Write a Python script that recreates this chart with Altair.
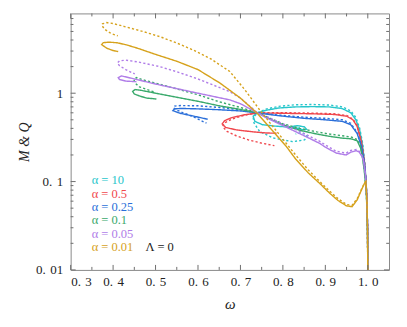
import altair as alt
import pandas as pd

ALPHAS = ["10", "0.5", "0.25", "0.1", "0.05", "0.01"]
COLORS = ["#27c6cb", "#f0474d", "#2b6fd9", "#39a96b", "#b07de8", "#d6a21c"]

# alpha = 10
CYAN_M_W = [1.0, 0.9995, 0.998, 0.996, 0.993, 0.988, 0.981, 0.972, 0.96, 0.94, 0.91, 0.87, 0.83, 0.79, 0.76, 0.74, 0.73, 0.734, 0.752, 0.78, 0.81, 0.835, 0.85, 0.856, 0.851, 0.835, 0.822, 0.83, 0.84]
CYAN_M_V = [0.01, 0.03, 0.06, 0.1, 0.15, 0.25, 0.38, 0.5, 0.6, 0.67, 0.70, 0.705, 0.70, 0.68, 0.64, 0.6, 0.55, 0.48, 0.44, 0.425, 0.415, 0.395, 0.385, 0.39, 0.415, 0.43, 0.42, 0.4, 0.405]
CYAN_Q_W = [1.0, 0.9995, 0.998, 0.996, 0.993, 0.988, 0.981, 0.972, 0.96, 0.94, 0.91, 0.87, 0.83, 0.79, 0.76, 0.74, 0.73, 0.732, 0.745, 0.776, 0.823, 0.851, 0.857, 0.853, 0.84, 0.83]
CYAN_Q_V = [0.01, 0.03, 0.06, 0.1, 0.16, 0.27, 0.4, 0.53, 0.63, 0.70, 0.735, 0.745, 0.74, 0.71, 0.66, 0.6, 0.53, 0.46, 0.37, 0.312, 0.283, 0.296, 0.322, 0.345, 0.355, 0.345]

# alpha = 0.5
RED_M_W = [1.0, 0.9995, 0.998, 0.996, 0.992, 0.985, 0.975, 0.965, 0.95, 0.92, 0.87, 0.82, 0.78, 0.74, 0.71, 0.68, 0.663, 0.657, 0.665, 0.69, 0.73, 0.76, 0.785]
RED_M_V = [0.01, 0.03, 0.06, 0.1, 0.17, 0.28, 0.42, 0.5, 0.55, 0.575, 0.585, 0.59, 0.595, 0.595, 0.57, 0.53, 0.49, 0.45, 0.41, 0.385, 0.365, 0.355, 0.352]
RED_Q_W = [1.0, 0.9995, 0.998, 0.996, 0.992, 0.985, 0.975, 0.965, 0.95, 0.92, 0.87, 0.82, 0.78, 0.74, 0.71, 0.68, 0.662, 0.658, 0.668, 0.69, 0.72, 0.75, 0.78]
RED_Q_V = [0.01, 0.03, 0.06, 0.1, 0.17, 0.29, 0.43, 0.51, 0.56, 0.585, 0.595, 0.6, 0.6, 0.6, 0.565, 0.51, 0.46, 0.42, 0.37, 0.33, 0.295, 0.272, 0.255]

# alpha = 0.25
BLUE_M_W = [1.0, 0.9995, 0.998, 0.996, 0.992, 0.985, 0.975, 0.96, 0.94, 0.9, 0.85, 0.8, 0.76, 0.74, 0.7, 0.65, 0.6, 0.56, 0.545, 0.541, 0.557, 0.59, 0.623]
BLUE_M_V = [0.01, 0.03, 0.06, 0.1, 0.16, 0.25, 0.35, 0.44, 0.48, 0.5, 0.52, 0.55, 0.58, 0.6, 0.63, 0.65, 0.665, 0.672, 0.665, 0.635, 0.594, 0.55, 0.507]
BLUE_Q_W = [1.0, 0.9995, 0.998, 0.996, 0.992, 0.985, 0.975, 0.96, 0.94, 0.9, 0.85, 0.8, 0.76, 0.74, 0.7, 0.65, 0.6, 0.56, 0.545, 0.542, 0.55, 0.565, 0.588, 0.62]
BLUE_Q_V = [0.01, 0.03, 0.06, 0.1, 0.165, 0.26, 0.36, 0.455, 0.5, 0.52, 0.535, 0.56, 0.585, 0.6, 0.65, 0.69, 0.72, 0.725, 0.715, 0.685, 0.645, 0.6, 0.544, 0.458]

# alpha = 0.1
GREEN_M_W = [1.0, 0.9995, 0.998, 0.996, 0.992, 0.988, 0.983, 0.975, 0.96, 0.94, 0.91, 0.88, 0.84, 0.8, 0.77, 0.74, 0.7, 0.65, 0.6, 0.55, 0.5, 0.465, 0.452, 0.446, 0.45, 0.465, 0.48, 0.502]
GREEN_M_V = [0.01, 0.025, 0.05, 0.08, 0.13, 0.18, 0.24, 0.29, 0.305, 0.31, 0.325, 0.345, 0.38, 0.44, 0.51, 0.6, 0.655, 0.72, 0.81, 0.9, 1.0, 1.08, 1.1, 1.05, 0.98, 0.92, 0.88, 0.86]
GREEN_Q_W = [1.0, 0.9995, 0.998, 0.996, 0.992, 0.988, 0.983, 0.975, 0.96, 0.94, 0.91, 0.88, 0.84, 0.8, 0.77, 0.74, 0.7, 0.65, 0.6, 0.55, 0.5, 0.47, 0.455, 0.449, 0.452, 0.462, 0.48, 0.5]
GREEN_Q_V = [0.01, 0.025, 0.05, 0.08, 0.135, 0.19, 0.25, 0.3, 0.32, 0.33, 0.345, 0.365, 0.4, 0.45, 0.52, 0.6, 0.69, 0.8, 0.96, 1.12, 1.3, 1.42, 1.5, 1.42, 1.3, 1.18, 1.1, 1.02]

# alpha = 0.05
PURPLE_M_W = [1.0, 0.9995, 0.998, 0.996, 0.994, 0.99, 0.987, 0.98, 0.973, 0.96, 0.949, 0.926, 0.9, 0.887, 0.85, 0.8, 0.76, 0.74, 0.7, 0.675, 0.6, 0.5, 0.45, 0.42, 0.412, 0.415, 0.43, 0.455]
PURPLE_M_V = [0.01, 0.03, 0.06, 0.09, 0.124, 0.17, 0.19, 0.215, 0.224, 0.215, 0.2, 0.21, 0.245, 0.27, 0.33, 0.43, 0.53, 0.6, 0.76, 0.84, 1.0, 1.27, 1.45, 1.57, 1.5, 1.43, 1.37, 1.35]
PURPLE_Q_W = [1.0, 0.9995, 0.998, 0.996, 0.994, 0.99, 0.987, 0.98, 0.973, 0.96, 0.949, 0.926, 0.9, 0.887, 0.85, 0.8, 0.76, 0.74, 0.7, 0.675, 0.6, 0.55, 0.51, 0.46, 0.43, 0.415, 0.41, 0.415, 0.43, 0.451]
PURPLE_Q_V = [0.01, 0.03, 0.06, 0.09, 0.125, 0.175, 0.195, 0.22, 0.23, 0.225, 0.21, 0.22, 0.26, 0.285, 0.35, 0.45, 0.55, 0.6, 0.88, 1.04, 1.45, 1.75, 2.0, 2.25, 2.37, 2.32, 2.2, 2.05, 1.85, 1.65]

# alpha = 0.01
GOLD_M_W = [1.0, 0.9993, 0.998, 0.9955, 0.992, 0.985, 0.975, 0.963, 0.95, 0.93, 0.91, 0.887, 0.86, 0.83, 0.808, 0.775, 0.74, 0.7, 0.652, 0.6, 0.55, 0.5, 0.46, 0.432, 0.41, 0.392, 0.377, 0.373, 0.385, 0.4, 0.412]
GOLD_M_V = [0.01, 0.03, 0.06, 0.1, 0.095, 0.08, 0.062, 0.052, 0.053, 0.061, 0.074, 0.095, 0.125, 0.18, 0.25, 0.38, 0.59, 0.88, 1.3, 1.85, 2.3, 2.75, 3.2, 3.52, 3.72, 3.78, 3.74, 3.55, 3.23, 3.04, 2.96]
GOLD_Q_W = [1.0, 0.9993, 0.998, 0.9955, 0.992, 0.985, 0.975, 0.963, 0.95, 0.93, 0.91, 0.887, 0.86, 0.83, 0.808, 0.78, 0.745, 0.71, 0.675, 0.63, 0.588, 0.55, 0.51, 0.47, 0.427, 0.4, 0.385, 0.375, 0.374, 0.38, 0.395, 0.411]
GOLD_Q_V = [0.01, 0.03, 0.06, 0.1, 0.096, 0.082, 0.064, 0.054, 0.055, 0.064, 0.078, 0.1, 0.135, 0.2, 0.27, 0.4, 0.65, 1.1, 1.76, 2.45, 3.09, 3.7, 4.37, 5.0, 5.68, 6.15, 6.3, 6.1, 5.8, 5.3, 4.75, 4.46]

X_MAJOR = [0.3, 0.4, 0.5, 0.6, 0.7, 0.8, 0.9, 1.0]
X_MINOR = [0.35, 0.45, 0.55, 0.65, 0.75, 0.85, 0.95]
Y_MAJOR = [0.01, 0.1, 1]
Y_MINOR = [0.02, 0.03, 0.04, 0.05, 0.06, 0.07, 0.08, 0.09,
           0.2, 0.3, 0.4, 0.5, 0.6, 0.7, 0.8, 0.9,
           2, 3, 4, 5, 6, 7]

SERIES = [
    ("10", CYAN_M_W, CYAN_M_V, CYAN_Q_W, CYAN_Q_V),
    ("0.5", RED_M_W, RED_M_V, RED_Q_W, RED_Q_V),
    ("0.25", BLUE_M_W, BLUE_M_V, BLUE_Q_W, BLUE_Q_V),
    ("0.1", GREEN_M_W, GREEN_M_V, GREEN_Q_W, GREEN_Q_V),
    ("0.05", PURPLE_M_W, PURPLE_M_V, PURPLE_Q_W, PURPLE_Q_V),
    ("0.01", GOLD_M_W, GOLD_M_V, GOLD_Q_W, GOLD_Q_V),
]

frames = []
for a, mw, mv, qw, qv in SERIES:
    for kind, ws, vs in (("M", mw, mv), ("Q", qw, qv)):
        frames.append(pd.DataFrame({
            "omega": ws, "value": vs, "alpha": a, "kind": kind,
            "series": f"{a}-{kind}", "idx": list(range(len(ws)))}))
df = pd.concat(frames, ignore_index=True)

W, H = 318.6, 256.7
FONT = "Liberation Serif, Times New Roman, DejaVu Serif, serif"
FRAME = "#8a8a8a"
TICK = "#6e6e6e"
TXT = "#222222"
SP = "\u2004"

xscale = alt.Scale(domain=[0.3, 1.05], nice=False, zero=False)
yscale = alt.Scale(type="log", domain=[0.01, 8], nice=False)

curves = alt.Chart(df).mark_line(strokeWidth=1.4, clip=True).encode(
    x=alt.X("omega:Q", scale=xscale,
            axis=alt.Axis(orient="bottom", values=X_MAJOR, ticks=False, tickSize=0,
                          domain=False, grid=False, title="ω",
                          labelExpr=f"replace(format(datum.value, '.1f'), '.', '.{SP}')",
                          labelFont=FONT, labelFontSize=13, labelColor=TXT,
                          labelPadding=6, titleFont=FONT, titleFontSize=15,
                          titleFontStyle="italic", titleFontWeight="normal",
                          titleColor=TXT, titlePadding=8)),
    y=alt.Y("value:Q", scale=yscale,
            axis=alt.Axis(orient="left", values=Y_MAJOR, ticks=False, tickSize=0,
                          domain=False, grid=False, title="M & Q",
                          labelExpr=f"datum.value >= 1 ? '1' : replace(format(datum.value, datum.value < 0.05 ? '.2f' : '.1f'), '.', '.{SP}')",
                          labelFont=FONT, labelFontSize=13, labelColor=TXT,
                          labelPadding=8, titleFont=FONT, titleFontSize=14,
                          titleFontStyle="italic", titleFontWeight="normal",
                          titleColor=TXT, titlePadding=4)),
    color=alt.Color("alpha:N", scale=alt.Scale(domain=ALPHAS, range=COLORS), legend=None),
    strokeDash=alt.StrokeDash("kind:N", scale=alt.Scale(domain=["M", "Q"], range=[[1, 0], [2.2, 2.2]]), legend=None),
    detail="series:N",
    order="idx:Q",
)


def xticks(values, size):
    d = alt.Chart(pd.DataFrame({"omega": values})).mark_rule(color=TICK, strokeWidth=1)
    bottom = d.encode(x=alt.X("omega:Q", scale=xscale), y=alt.value(H), y2=alt.value(H - size))
    top = d.encode(x=alt.X("omega:Q", scale=xscale), y=alt.value(0), y2=alt.value(size))
    return [bottom, top]


def yticks(values, size):
    d = alt.Chart(pd.DataFrame({"value": values})).mark_rule(color=TICK, strokeWidth=1)
    left = d.encode(y=alt.Y("value:Q", scale=yscale), x=alt.value(0), x2=alt.value(size))
    right = d.encode(y=alt.Y("value:Q", scale=yscale), x=alt.value(W), x2=alt.value(W - size))
    return [left, right]


layers = [curves]
layers += xticks(X_MAJOR, 5) + xticks(X_MINOR, 3)
layers += yticks(Y_MAJOR, 5) + yticks(Y_MINOR, 2.8)

for i, (a, c) in enumerate(zip(ALPHAS, COLORS)):
    layers.append(
        alt.Chart(pd.DataFrame({"t": ["α = " + a]})).mark_text(
            align="left", baseline="middle", font=FONT, fontSize=12.5, color=c
        ).encode(text="t:N", x=alt.value(21), y=alt.value(167 + 13.4 * i))
    )
layers.append(
    alt.Chart(pd.DataFrame({"t": ["Λ = 0"]})).mark_text(
        align="left", baseline="middle", font=FONT, fontSize=12.5, color=TXT
    ).encode(text="t:N", x=alt.value(75), y=alt.value(167 + 13.4 * 5))
)

chart = alt.layer(*layers).properties(
    width=W, height=H,
    autosize=alt.AutoSizeParams(type="none"),
    padding={"left": 62.7, "top": 5.3, "right": 10, "bottom": 50},
).configure_view(stroke=FRAME, strokeWidth=1)

chart.save("out.html", embed_options={"renderer": "svg", "actions": False})
